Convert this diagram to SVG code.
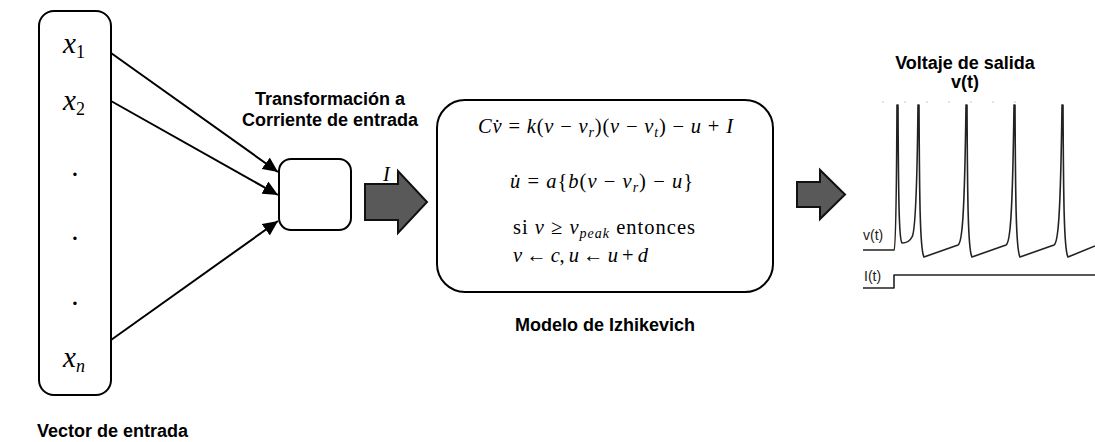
<svg xmlns="http://www.w3.org/2000/svg" width="1095" height="442" viewBox="0 0 1095 442">
<style>
.box{fill:#fff;stroke:#000;stroke-width:2}
.lbl{font-family:"Liberation Sans",Arial,sans-serif;font-weight:bold;font-size:18px;fill:#000;text-anchor:middle}
.var{font-family:"Liberation Serif","Times New Roman",serif;font-style:italic;font-size:29px;fill:#000}
.sub{font-size:18px;font-style:normal}
.subi{font-size:18px}
.eq{font-family:"Liberation Serif","Times New Roman",serif;font-size:20.5px;fill:#000}
.i{font-style:italic}
.s{font-size:14px;font-style:italic}
.conn{stroke:#000;stroke-width:2;fill:none}
.blk{fill:#595959;stroke:#111;stroke-width:2;stroke-linejoin:miter}
.trace{fill:none;stroke:#222;stroke-width:1.6;stroke-linejoin:round}
.glbl{font-family:"Liberation Sans",Arial,sans-serif;font-size:14px;fill:#222}
</style>
<defs>
<marker id="ah" markerUnits="userSpaceOnUse" markerWidth="16" markerHeight="14" refX="15" refY="7" orient="auto">
<path d="M0,0 L15,7 L0,14 Z" fill="#000"/>
</marker>
</defs>

<g id="input-vector">
<rect class="box" x="39" y="11" width="72" height="384" rx="15" ry="15"/>
<text class="var" x="63" y="53">x<tspan class="sub" dy="5">1</tspan></text>
<text class="var" x="63" y="110">x<tspan class="sub" dy="5">2</tspan></text>
<text class="var" x="72" y="176">.</text>
<text class="var" x="72" y="240">.</text>
<text class="var" x="72" y="305">.</text>
<text class="var" x="63" y="367">x<tspan class="subi" dy="5">n</tspan></text>
</g>
<text id="lbl-vector" class="lbl" x="37" y="437" style="text-anchor:start">Vector de entrada</text>

<g id="connectors">
<line class="conn" x1="111" y1="53" x2="278" y2="172" marker-end="url(#ah)"/>
<line class="conn" x1="111" y1="101" x2="278" y2="195" marker-end="url(#ah)"/>
<line class="conn" x1="111" y1="340" x2="278" y2="221" marker-end="url(#ah)"/>
<polygon class="blk" points="365,184 398,184 398,171 427,202 398,233 398,220 365,220"/>
<polygon class="blk" points="797,182 820,182 820,170 845,194.5 820,219 820,207 797,207"/>
<text class="eq i" x="383" y="181" font-size="19">I</text>
</g>

<g id="transform">
<rect class="box" x="279" y="159" width="72" height="71" rx="12" ry="12"/>
<text class="lbl" x="330" y="105">Transformación a</text>
<text class="lbl" x="330" y="126">Corriente de entrada</text>
</g>

<g id="izhikevich">
<rect class="box" x="437" y="100" width="336" height="192" rx="28" ry="28"/>
<text class="eq" x="478" y="133" textLength="255" lengthAdjust="spacing"><tspan class="i">Cv̇</tspan> = <tspan class="i">k</tspan>(<tspan class="i">v</tspan> − <tspan class="i">v</tspan><tspan class="s" dy="4">r</tspan><tspan dy="-4">)(</tspan><tspan class="i">v</tspan> − <tspan class="i">v</tspan><tspan class="s" dy="4">t</tspan><tspan dy="-4">) − </tspan><tspan class="i">u</tspan> + <tspan class="i">I</tspan></text>
<text class="eq" x="510" y="188" textLength="183" lengthAdjust="spacing"><tspan class="i">u̇</tspan> = <tspan class="i">a</tspan>{<tspan class="i">b</tspan>(<tspan class="i">v</tspan> − <tspan class="i">v</tspan><tspan class="s" dy="4">r</tspan><tspan dy="-4">) − </tspan><tspan class="i">u</tspan>}</text>
<text class="eq" x="513" y="234" textLength="182" lengthAdjust="spacing">si <tspan class="i">v</tspan> ≥  <tspan class="i">v</tspan><tspan class="s" dy="4">peak</tspan><tspan dy="-4">  entonces</tspan></text>
<text class="eq" x="513" y="262" textLength="135" lengthAdjust="spacing"><tspan class="i">v</tspan> ← <tspan class="i">c</tspan>, <tspan class="i">u</tspan> ← <tspan class="i">u</tspan> + <tspan class="i">d</tspan></text>
</g>
<text id="lbl-model" class="lbl" x="605" y="331">Modelo de Izhikevich</text>

<g id="output">
<text class="lbl" x="965" y="69">Voltaje de salida</text>
<text class="lbl" x="965" y="88">v(t)</text>
<line x1="882" y1="102" x2="1035" y2="102" stroke="#c8c8c8" stroke-width="1" stroke-dasharray="2 20"/>
<path class="trace" d="M863,250 L894,250 C895.5,249 896.5,200 897,105 L898,105 C898.5,200 899,240 902,243 C906,243 910,241 912,237 C915,233 917,200 918,105 L919,105 C919.5,200 920,250 924,257 L958,245 C962,243 964.5,220 966,105 L967,105 C967.5,200 968,250 972,257 L1006,245 C1010,243 1012.5,220 1014,105 L1015,105 C1015.5,200 1016,250 1020,257 L1054,245 C1058,243 1060.5,220 1062,105 L1063,105 C1063.5,200 1064,250 1068,257 L1095,246"/>
<path class="trace" d="M863,288 H894 V275 H1095"/>
<text class="glbl" x="863" y="240">v(t)</text>
<text class="glbl" x="864" y="281">I(t)</text>
</g>
</svg>
